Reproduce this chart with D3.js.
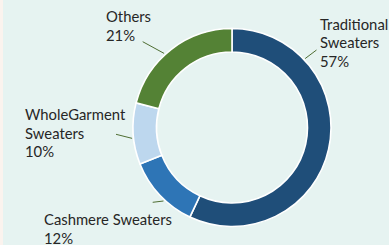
<!DOCTYPE html>
<html>
<head>
<meta charset="utf-8">
<script src="https://cdn.jsdelivr.net/npm/d3@7"></script>
<style>
  html, body { margin: 0; padding: 0; background: #e6f3f1; }
  svg { display: block; }
</style>
</head>
<body>
<svg id="chart" width="389" height="245"></svg>
<script>
// data
var categories = ["Traditional Sweaters", "Cashmere Sweaters", "WholeGarment Sweaters", "Others"];
var shares = [57, 12, 10, 21];
var labelLines = [["Traditional", "Sweaters", "57%"], ["Cashmere Sweaters", "12%"], ["WholeGarment", "Sweaters", "10%"], ["Others", "21%"]];
var colors = ["#1f4e79", "#2e75b6", "#bdd7ee", "#548235"];

// label layout: text anchor (left, first baseline) and leader line
var labelPos = [[320, 29.5], [44, 225], [25, 120], [106, 22]];
var leaderAngle = [46.7, 223, 263.8, 317.5];      // degrees on ring where leader touches
var leaderEnd = [[316.5, 50], [152.7, 202.3], [116, 134.3], [142.7, 41.7]];

var W = 389, H = 245;
var cx = 232, cy = 127.5, rOut = 99, rIn = 75.5;

var svg = d3.select("#chart");

svg.append("rect").attr("x", 0).attr("y", 0).attr("width", W).attr("height", H).attr("fill", "#e6f3f1");
svg.append("rect").attr("x", 0).attr("y", 0).attr("width", 3).attr("height", H).attr("fill", "#fbf3ee");

var pie = d3.pie().sort(null).value(function(d) { return d; });
var arc = d3.arc().innerRadius(rIn).outerRadius(rOut);

var g = svg.append("g").attr("transform", "translate(" + cx + "," + cy + ")");
g.selectAll("path.slice")
    .data(pie(shares))
    .enter().append("path")
    .attr("class", "slice")
    .attr("d", arc)
    .attr("fill", function(d, i) { return colors[i]; })
    .attr("stroke", "#ffffff")
    .attr("stroke-width", 1.6);

// leader lines
var rad = Math.PI / 180;
svg.selectAll("line.leader")
    .data(categories)
    .enter().append("line")
    .attr("class", "leader")
    .attr("x1", function(d, i) { return cx + (rOut + 1.5) * Math.sin(leaderAngle[i] * rad); })
    .attr("y1", function(d, i) { return cy - (rOut + 1.5) * Math.cos(leaderAngle[i] * rad); })
    .attr("x2", function(d, i) { return leaderEnd[i][0]; })
    .attr("y2", function(d, i) { return leaderEnd[i][1]; })
    .attr("stroke", "#4f6e33")
    .attr("stroke-width", 1);

// fit font so "Cashmere Sweaters" is ~128px wide (Calibri 16px)
var probe = svg.append("text").attr("font-family", "Lato").attr("font-size", 16).text("Cashmere Sweaters");
var fs = 16 * 128 / probe.node().getComputedTextLength();
probe.remove();

var labels = svg.selectAll("text.lbl")
    .data(labelLines)
    .enter().append("text")
    .attr("class", "lbl")
    .attr("x", function(d, i) { return labelPos[i][0]; })
    .attr("y", function(d, i) { return labelPos[i][1]; })
    .attr("font-family", "Lato")
    .attr("font-size", fs)
    .attr("fill", "#262626");

labels.each(function(d, i) {
    d3.select(this).selectAll("tspan")
        .data(d)
        .enter().append("tspan")
        .attr("x", labelPos[i][0])
        .attr("dy", function(t, j) { return j === 0 ? 0 : 18.7; })
        .text(function(t) { return t; });
});
</script>
</body>
</html>
